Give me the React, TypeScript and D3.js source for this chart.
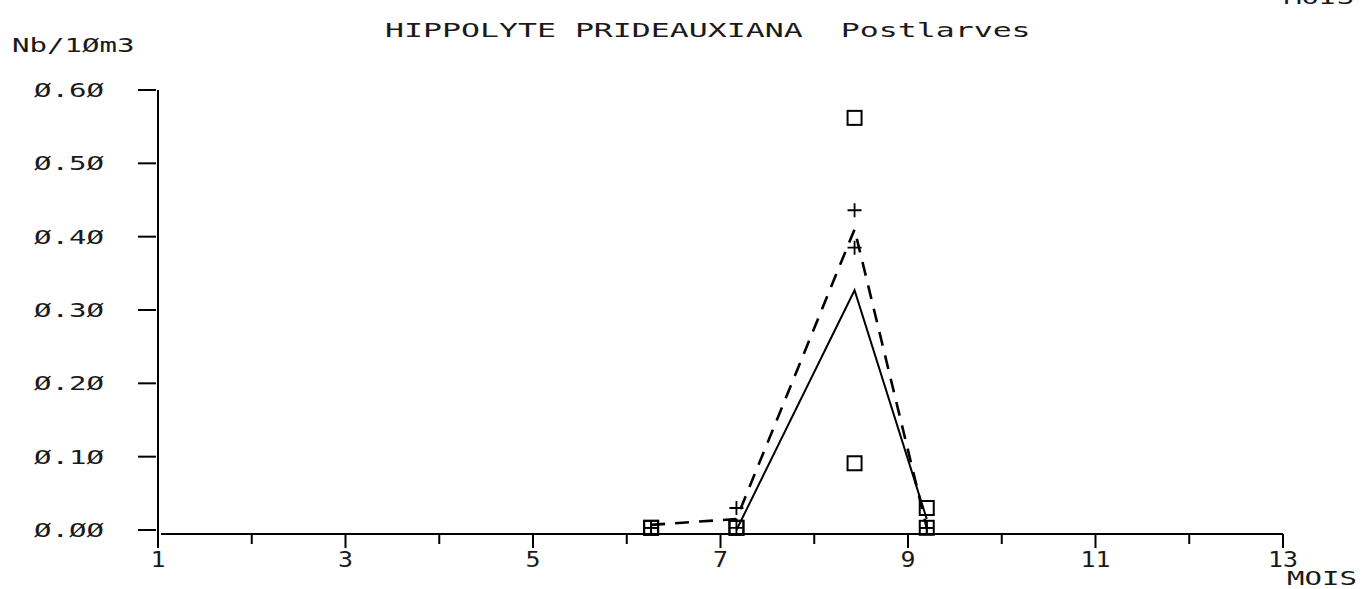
import React from "react";
import * as d3 from "d3";

// ---- data ----
const title = "HIPPOLYTE PRIDEAUXIANA\u00A0\u00A0Postlarves";
const yAxisTitle = "Nb/1Øm3";
const xAxisTitle = "MOIS";
const yTicks = [0, 0.1, 0.2, 0.3, 0.4, 0.5, 0.6];
const yTickLabels = ["Ø.ØØ", "Ø.1Ø", "Ø.2Ø", "Ø.3Ø", "Ø.4Ø", "Ø.5Ø", "Ø.6Ø"];
const xTicks = [1, 2, 3, 4, 5, 6, 7, 8, 9, 10, 11, 12, 13];
const xTickLabels = ["1", "", "3", "", "5", "", "7", "", "9", "", "11", "", "13"];

const months = [6.26, 7.17, 8.43, 9.2];
const squaresA = [0.003, 0.003, 0.562, 0.03];
const squaresB = [0.003, 0.003, 0.091, 0.003];
const plusA = [0.003, 0.03, 0.436, 0.003];
const plusB = [0.003, 0.003, 0.385, 0.003];

const solidMonths = [7.17, 8.43, 9.2];
const solidValues = [0.0, 0.327, 0.015];
const dashedMonths = [6.26, 7.17, 8.43, 9.2];
const dashedValues = [0.007, 0.015, 0.41, 0.003];

const W = 1362;
const H = 589;
const FONT = "DejaVu Sans Mono";
const FS = 19;

function Label({ x, y, text, anchor = "start", adv = 17.5, fs = FS }: any) {
  const sx = adv / (0.602 * fs);
  return (
    <g transform={`translate(${x},${y}) scale(${sx},1)`}>
      <text
        x={0}
        y={0}
        textAnchor={anchor}
        fontFamily={FONT}
        fontSize={fs}
        fill="#1a1a1a"
        style={{ whiteSpace: "pre" } as any}
      >
        {text}
      </text>
    </g>
  );
}

export default function App() {
  const x = d3.scaleLinear().domain([1, 13]).range([158, 1283]);
  const y = d3.scaleLinear().domain([0, 0.6]).range([530, 90]);
  const axisY = y(0) + 4;

  const solid = d3
    .line<number>()
    .x((_, i) => x(solidMonths[i]))
    .y((v) => y(v))(solidValues);
  const dashed = d3
    .line<number>()
    .x((_, i) => x(dashedMonths[i]))
    .y((v) => y(v))(dashedValues);

  const sq = 7;
  const square = (cx: number, cy: number, k: string) => (
    <rect key={k} x={cx - sq} y={cy - sq} width={sq * 2} height={sq * 2} fill="none" stroke="#000" strokeWidth={2} />
  );
  const plus = (cx: number, cy: number, k: string) => (
    <path key={k} d={`M${cx - sq},${cy}H${cx + sq}M${cx},${cy - sq}V${cy + sq}`} stroke="#000" strokeWidth={1.8} fill="none" />
  );

  return (
    <svg width={W} height={H} style={{ position: "absolute", left: 0, top: 0, background: "#fff" }}>
      <rect x={0} y={0} width={W} height={H} fill="#fff" />
      {/* title */}
      <Label x={385} y={37} text={title} adv={19} />
      <Label x={1284} y={4} text={xAxisTitle} />
      <Label x={12} y={52} text={yAxisTitle} />

      {/* y axis */}
      <line x1={x(1)} x2={x(1)} y1={y(0.6)} y2={548} stroke="#000" strokeWidth={2} />
      {yTicks.map((t, i) => (
        <g key={"yt" + i}>
          <line x1={x(1) - 20} x2={x(1) - 2} y1={y(t)} y2={y(t)} stroke="#000" strokeWidth={2} />
          <Label x={104} y={y(t) + 7} text={yTickLabels[i]} anchor="end" />
        </g>
      ))}

      {/* x axis */}
      <line x1={x(1) + 3} x2={x(13)} y1={axisY} y2={axisY} stroke="#000" strokeWidth={2} />
      {xTicks.map((t, i) => (
        <g key={"xt" + i}>
          {t > 1 && (
            <line x1={x(t)} x2={x(t)} y1={axisY} y2={axisY + (xTickLabels[i] ? 14 : 10)} stroke="#000" strokeWidth={2} />
          )}
          {xTickLabels[i] && <Label x={x(t)} y={567} text={xTickLabels[i]} anchor="middle" adv={15} fs={21} />}
        </g>
      ))}
      <Label x={1287} y={585} text={xAxisTitle} />

      {/* lines */}
      <path d={solid || ""} fill="none" stroke="#000" strokeWidth={2} />
      <path d={dashed || ""} fill="none" stroke="#000" strokeWidth={2.6} strokeDasharray="14,10" />

      {/* markers */}
      {months.map((m, i) => square(x(m), y(squaresA[i]), "sa" + i))}
      {months.map((m, i) => square(x(m), y(squaresB[i]), "sb" + i))}
      {months.map((m, i) => plus(x(m), y(plusA[i]), "pa" + i))}
      {months.map((m, i) => plus(x(m), y(plusB[i]), "pb" + i))}
    </svg>
  );
}
